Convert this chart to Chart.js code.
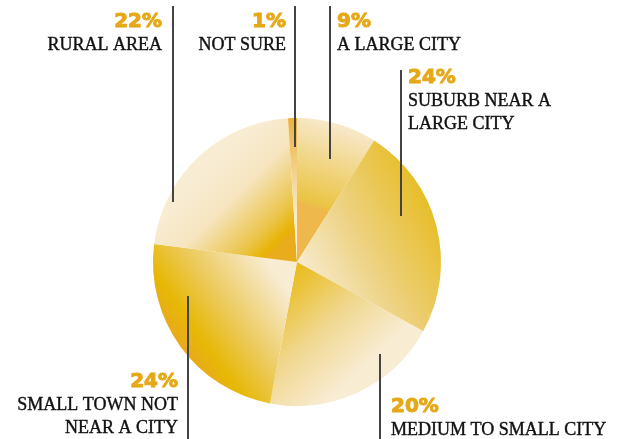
<!DOCTYPE html>
<html>
<head>
<meta charset="utf-8">
<title>Where people live</title>
<script src="https://cdn.jsdelivr.net/npm/chart.js@4"></script>
<style>
    body { margin: 0; background: #ffffff; }
    #wrap { width: 625px; height: 439px; }
</style>
</head>
<body>
<div id="wrap"><canvas id="areaChart" width="625" height="439"></canvas></div>
<script>
// slices, clockwise from 12 o'clock
const categories = ['A LARGE CITY', 'SUBURB NEAR A LARGE CITY', 'MEDIUM TO SMALL CITY',
    'SMALL TOWN NOT NEAR A CITY', 'RURAL AREA', 'NOT SURE'];
const shares = [9, 24, 20, 24, 22, 1];
const labelLines = [
    ['A LARGE CITY'],
    ['SUBURB NEAR A', 'LARGE CITY'],
    ['MEDIUM TO SMALL CITY'],
    ['SMALL TOWN NOT', 'NEAR A CITY'],
    ['RURAL AREA'],
    ['NOT SURE']
];

// callout placement: leader line (x, y1 -> y2), text anchor, alignment
const callouts = [
    { lx: 330, y1: 6, y2: 159, tx: 337, ty: 27, align: 'left' },
    { lx: 401, y1: 70, y2: 216, tx: 408, ty: 83, align: 'left' },
    { lx: 380, y1: 354, y2: 439, tx: 391, ty: 412, align: 'left' },
    { lx: 188, y1: 296, y2: 439, tx: 178, ty: 387, align: 'right' },
    { lx: 173, y1: 6, y2: 202, tx: 162, ty: 27, align: 'right' },
    { lx: 295, y1: 6, y2: 147, tx: 286, ty: 27, align: 'right' }
];

// gradient for each slice: start/end points in radius units from the centre
const shading = [
    { from: [0.0, -0.05], to: [0.28, -0.96], stops: [[0, '#efb84c'], [0.36, '#efb84c'], [0.4, '#ebc444'], [1, '#f7e9cb']] },
    { from: [0.05, 0.15], to: [1.0, -0.35], stops: [[0, '#f8ecd3'], [0.45, '#edd282'], [1, '#e7bc22']] },
    { from: [-0.05, 0.0], to: [0.55, 0.65], stops: [[0, '#e8b80c'], [0.55, '#f0d78e'], [1, '#f8ecd3']] },
    { from: [-0.12, 0.12], to: [-0.8, 0.6], stops: [[0, '#f8ecd3'], [0.5, '#ecca5c'], [0.82, '#e7b806'], [1, '#e8a91c']] },
    { from: [-0.62, -0.62], to: [-0.04, -0.04], stops: [[0, '#f8ecd3'], [0.3, '#f6e5c0'], [0.68, '#ebc448'], [0.82, '#e8b406'], [0.87, '#e9ac1c'], [1, '#e9ac1c']] },
    { from: [0, -1], to: [0, -0.3], stops: [[0, '#edb23a'], [1, '#f8ecd3']] }
];

function sliceFill(context) {
    const chart = context.chart;
    const area = chart.chartArea;
    const s = shading[context.dataIndex];
    if (!area) return s.stops[0][1];
    const cx = (area.left + area.right) / 2;
    const cy = (area.top + area.bottom) / 2;
    const r = Math.min(area.right - area.left, area.bottom - area.top) / 2;
    const g = chart.ctx.createLinearGradient(cx + s.from[0] * r, cy + s.from[1] * r,
        cx + s.to[0] * r, cy + s.to[1] * r);
    s.stops.forEach(st => g.addColorStop(st[0], st[1]));
    return g;
}

const calloutPlugin = {
    id: 'callouts',
    afterDraw(chart) {
        const ctx = chart.ctx;
        ctx.save();
        callouts.forEach((c, i) => {
            ctx.strokeStyle = '#444444';
            ctx.lineWidth = 2;
            ctx.beginPath();
            ctx.moveTo(c.lx, c.y1);
            ctx.lineTo(c.lx, c.y2);
            ctx.stroke();

            ctx.textAlign = c.align;
            ctx.textBaseline = 'alphabetic';
            // heavy percentage figure
            ctx.fillStyle = '#e6a817';
            ctx.strokeStyle = '#e6a817';
            ctx.lineWidth = 1;
            ctx.font = 'bold 20px "DejaVu Sans"';
            ctx.fillText(shares[i] + '%', c.tx, c.ty);
            ctx.strokeText(shares[i] + '%', c.tx, c.ty);

            ctx.fillStyle = '#111111';
            ctx.strokeStyle = '#111111';
            ctx.lineWidth = 0.4;
            ctx.font = '18px "Liberation Serif"';
            labelLines[i].forEach((line, k) => {
                ctx.fillText(line, c.tx, c.ty + 23 + k * 23);
                ctx.strokeText(line, c.tx, c.ty + 23 + k * 23);
            });
        });
        ctx.restore();
    }
};

new Chart(document.getElementById('areaChart'), {
    type: 'pie',
    data: {
        labels: categories,
        datasets: [{
            data: shares,
            backgroundColor: sliceFill,
            borderWidth: 0,
            hoverOffset: 0,
            offset: 0
        }]
    },
    options: {
        responsive: false,
        animation: false,
        layout: { padding: { left: 153, right: 184, top: 118, bottom: 33 } },
        plugins: {
            legend: { display: false },
            tooltip: { enabled: false }
        }
    },
    plugins: [calloutPlugin]
});
</script>
</body>
</html>
